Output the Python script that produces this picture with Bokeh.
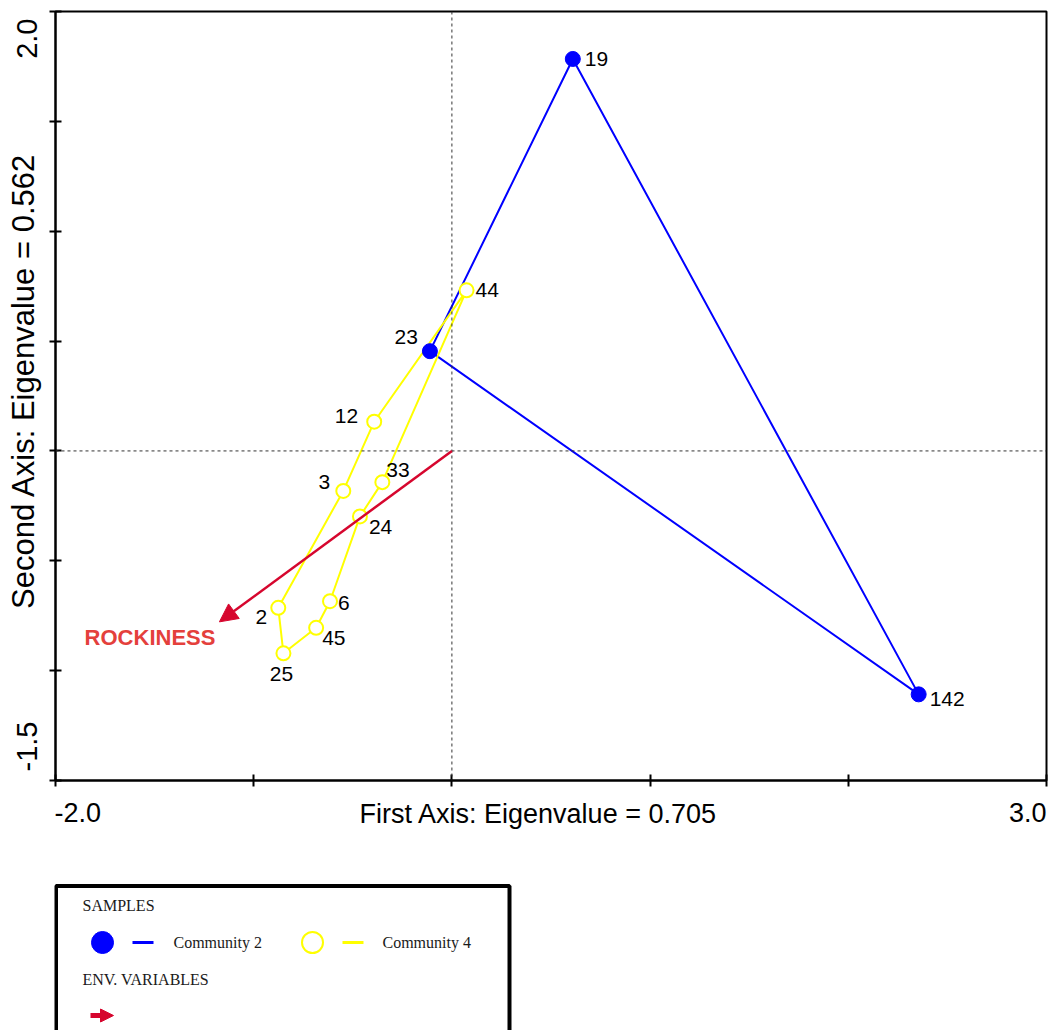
import math
from bokeh.plotting import figure
from bokeh.models import (Range1d, FixedTicker, Span, Arrow, NormalHead,
                          ColumnDataSource, CustomLabelingPolicy)
from bokeh.layouts import column, row
from bokeh.embed import file_html
from bokeh.resources import INLINE
from bokeh.core.properties import value, field

# ---------------- data ----------------
sample_ids = ["19", "142", "23", "44", "12", "33", "3", "24", "2", "6", "45", "25"]
community = [2, 2, 2, 4, 4, 4, 4, 4, 4, 4, 4, 4]
axis1 = [0.61, 2.355, -0.111, 0.074, -0.392, -0.351, -0.548, -0.464, -0.876, -0.615, -0.685, -0.850]
axis2 = [1.784, -1.108, 0.454, 0.731, 0.133, -0.142, -0.182, -0.298, -0.714, -0.684, -0.805, -0.921]
hull_c2 = ["19", "142", "23", "19"]
hull_c4 = ["44", "12", "3", "2", "25", "45", "6", "24", "33", "44"]
env_names = ["ROCKINESS"]
env_axis1 = [-1.173]
env_axis2 = [-0.778]
x_ticks = [-2, -1, 0, 1, 2, 3]
y_ticks = [-1.5, -1.0, -0.5, 0.0, 0.5, 1.0, 1.5, 2.0]
x_limits = (-2.0, 3.0)
y_limits = (-1.5, 2.0)
x_end_labels = ["-2.0", "3.0"]
y_end_labels = ["-1.5", "2.0"]
x_title = "First Axis: Eigenvalue = 0.705"
y_title = "Second Axis: Eigenvalue = 0.562"
legend_head_samples = "SAMPLES"
legend_head_env = "ENV. VARIABLES"
legend_labels = ["Community 2", "Community 4"]

# ---------------- style ----------------
BLUE = "#0000FF"
YELLOW = "#FFFF00"
RED = "#D6062E"
LABEL_RED = "#E4403C"
SANS = "Liberation Sans"
SERIF = "Liberation Serif"
W, H = 1054, 1030
LEFT_W = 44          # strip holding the vertical texts
AXIS_B = 10          # room taken by the y axis ticks
TOP_B, BOT_B = 11, 8
MAIN_H = 790
BOTTOM_H = 60
LEG_H = H - MAIN_H - BOTTOM_H
# label placement per sample: (dx px, dy px screen-down, align)
label_style = {
    "19": (12, 0, "left"), "142": (11, 5, "left"), "44": (9, 0, "left"),
    "23": (-12, -14, "right"), "12": (-16, -6, "right"), "3": (-13, -9, "right"),
    "33": (4, -12, "left"), "24": (9, 11, "left"), "2": (-11, 9, "right"),
    "6": (8, 2, "left"), "45": (6, 10, "left"), "25": (-2, 21, "center"),
}

pos = {s: (a, b) for s, a, b in zip(sample_ids, axis1, axis2)}
hide_all = CustomLabelingPolicy(code="for (const i of indices) { indices.unset(i) }\nreturn indices")


def bare(fig):
    fig.grid.visible = False
    fig.outline_line_color = None
    fig.background_fill_color = "white"
    fig.border_fill_color = "white"


# ---------------- main plot ----------------
p = figure(width=W - LEFT_W, height=MAIN_H, x_range=Range1d(*x_limits), y_range=Range1d(*y_limits),
           output_backend="svg", toolbar_location=None,
           min_border_left=AXIS_B, min_border_right=8, min_border_top=TOP_B,
           min_border_bottom=BOT_B)
p.grid.visible = False
p.background_fill_color = "white"
p.border_fill_color = "white"
p.outline_line_color = "black"
p.outline_line_width = 2
p.outline_line_alpha = 1.0

for ax, ticks in ((p.xaxis, x_ticks), (p.yaxis, y_ticks)):
    ax.ticker = FixedTicker(ticks=ticks)
    ax.axis_line_width = 2
    ax.axis_line_color = "black"
    ax.major_tick_line_color = "black"
    ax.major_tick_line_width = 2
    ax.major_tick_in = 6
    ax.major_tick_out = 6
    ax.minor_tick_line_color = None
    ax.major_label_policy = hide_all
    ax.major_label_text_font_size = "1px"
    ax.major_label_standoff = 0

# dotted zero lines
for dim in ("height", "width"):
    p.add_layout(Span(location=0, dimension=dim, line_color="#333333",
                      line_dash="3 3", line_width=1))

# hulls
p.line([pos[s][0] for s in hull_c2], [pos[s][1] for s in hull_c2], line_color=BLUE, line_width=2)
p.line([pos[s][0] for s in hull_c4], [pos[s][1] for s in hull_c4], line_color=YELLOW, line_width=2)

# points
c2 = [i for i, c in enumerate(community) if c == 2]
c4 = [i for i, c in enumerate(community) if c == 4]
p.scatter([axis1[i] for i in c4], [axis2[i] for i in c4], marker="circle", size=14,
          fill_color="white", line_color=YELLOW, line_width=2)
p.scatter([axis1[i] for i in c2], [axis2[i] for i in c2], marker="circle", size=15,
          fill_color=BLUE, line_color=BLUE)

# sample labels
src = ColumnDataSource(dict(
    x=axis1, y=axis2, text=sample_ids,
    dx=[label_style[s][0] for s in sample_ids],
    dy=[label_style[s][1] for s in sample_ids],
    align=[label_style[s][2] for s in sample_ids],
))
p.text(x="x", y="y", text="text", source=src, x_offset="dx", y_offset="dy",
       text_align=field("align"), text_baseline="middle",
       text_font=value(SANS), text_font_size="21px", text_color="black")

# environmental arrow
for n, ex, ey in zip(env_names, env_axis1, env_axis2):
    p.add_layout(Arrow(end=NormalHead(size=18, fill_color=RED, line_color=RED),
                       x_start=0, y_start=0, x_end=ex, y_end=ey,
                       line_color=RED, line_width=2.5))
    p.text(x=[ex], y=[ey], text=[n], x_offset=-4, y_offset=16,
           text_align="right", text_baseline="middle", text_font=value(SANS),
           text_font_size="22px", text_font_style="bold", text_color=LABEL_RED)

# ---------------- left strip: vertical axis texts ----------------
L = figure(width=LEFT_W, height=MAIN_H, x_range=Range1d(0, LEFT_W), y_range=p.y_range,
           output_backend="svg", toolbar_location=None, x_axis_type=None, y_axis_type=None,
           min_border_left=0, min_border_right=0, min_border_top=TOP_B, min_border_bottom=BOT_B)
bare(L)
L.text(x=[23], y=[sum(y_limits) / 2], text=[y_title], angle=math.pi / 2, y_offset=-15,
       text_align="center", text_baseline="middle", text_font=value(SANS),
       text_font_size="31px", text_color="black")
L.text(x=[26], y=[y_limits[1]], text=[y_end_labels[1]], angle=math.pi / 2, y_offset=7,
       text_align="right", text_baseline="middle", text_font=value(SANS),
       text_font_size="29px", text_color="black")
L.text(x=[26], y=[y_limits[0]], text=[y_end_labels[0]], angle=math.pi / 2, y_offset=-9,
       text_align="left", text_baseline="middle", text_font=value(SANS),
       text_font_size="29px", text_color="black")

# ---------------- bottom strip: horizontal axis texts ----------------
B = figure(width=W, height=BOTTOM_H, x_range=p.x_range, y_range=Range1d(BOTTOM_H, 0),
           output_backend="svg", toolbar_location=None, x_axis_type=None, y_axis_type=None,
           min_border_left=LEFT_W + AXIS_B, min_border_right=8, min_border_top=0,
           min_border_bottom=0)
bare(B)
B.text(x=[x_limits[0]], y=[22], text=[x_end_labels[0]], text_align="left",
       text_baseline="middle", text_font=value(SANS), text_font_size="27px", text_color="black")
B.text(x=[x_limits[1]], y=[22], text=[x_end_labels[1]], text_align="right",
       text_baseline="middle", text_font=value(SANS), text_font_size="27px", text_color="black")
B.text(x=[sum(x_limits) / 2], y=[23], text=[x_title], x_offset=-12, text_align="center",
       text_baseline="middle", text_font=value(SANS), text_font_size="27px", text_color="black")

# ---------------- legend panel (pixel coordinates) ----------------
q = figure(width=W, height=LEG_H, x_range=Range1d(54, W - 8), y_range=Range1d(LEG_H, 0),
           output_backend="svg", toolbar_location=None, x_axis_type=None, y_axis_type=None,
           min_border_left=54, min_border_right=8, min_border_top=0, min_border_bottom=0)
bare(q)
oy = MAIN_H + BOTTOM_H
q.quad(left=[55.5], right=[509], top=[885.5 - oy], bottom=[LEG_H + 20], fill_color="white",
       line_color="black", line_width=4)
q.text(x=[82, 173, 382, 82], y=[905 - oy, 942 - oy, 942 - oy, 979 - oy],
       text=[legend_head_samples, legend_labels[0], legend_labels[1], legend_head_env],
       text_baseline="middle", text_align="left", text_font=value(SERIF),
       text_font_size="16px", text_color="#1a1a1a")
q.scatter([102], [942 - oy], marker="circle", size=22, fill_color=BLUE, line_color=BLUE)
q.scatter([312], [942 - oy], marker="circle", size=21, fill_color="white", line_color=YELLOW,
          line_width=2)
q.segment(x0=[132], y0=[942 - oy], x1=[153], y1=[942 - oy], line_color=BLUE, line_width=3)
q.segment(x0=[342], y0=[942 - oy], x1=[363], y1=[942 - oy], line_color=YELLOW, line_width=3)
q.add_layout(Arrow(end=NormalHead(size=13, fill_color=RED, line_color=RED),
                   x_start=90, y_start=1015 - oy, x_end=113, y_end=1015 - oy,
                   line_color=RED, line_width=5))

layout = column(row(L, p, spacing=0), B, q, spacing=0)
open("out.html", "w").write(file_html(layout, INLINE))
